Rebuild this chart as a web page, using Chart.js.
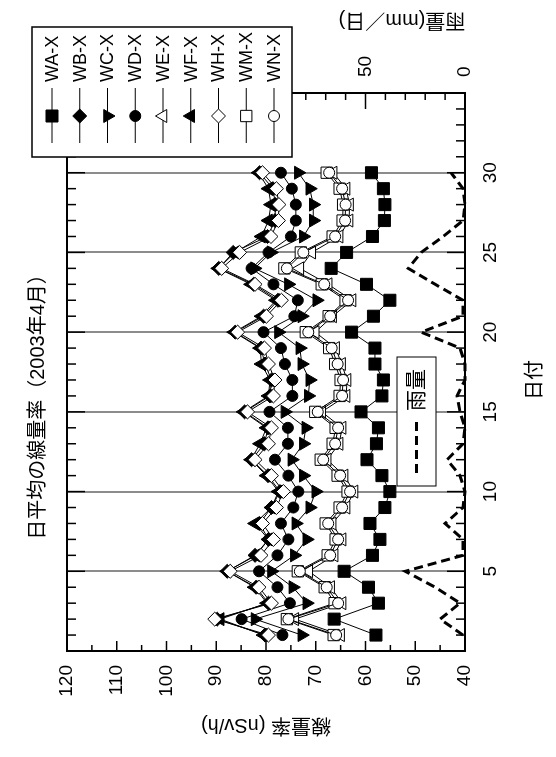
<!DOCTYPE html>
<html lang="ja">
<head>
<meta charset="utf-8">
<title>日平均の線量率（2003年4月）</title>
<script src="https://cdn.jsdelivr.net/npm/chart.js@4.4.1/dist/chart.umd.min.js"></script>
<style>
  html, body { margin: 0; padding: 0; background: #fff; }
  #frame { position: relative; width: 556px; height: 757px; overflow: hidden; }
  /* グラフ全体を左に90度回転して縦長に表示 */
  #rot { position: absolute; left: 0; top: 0; width: 757px; height: 556px;
         transform-origin: 0 0; transform: translate(0, 757px) rotate(-90deg); }
</style>
</head>
<body>
<div id="frame"><div id="rot"><canvas id="chart" width="757" height="556"></canvas></div></div>
<script>
// データ（4月の日付ごと）
const days = [1, 2, 3, 4, 5, 6, 7, 8, 9, 10, 11, 12, 13, 14, 15, 16, 17, 18, 19, 20, 21, 22, 23, 24, 25, 26, 27, 28, 29, 30];
const WA = [57.9, 66.3, 57.4, 59.4, 64.3, 58.6, 57.1, 59.1, 56.1, 55.1, 56.7, 59.7, 57.8, 57.4, 60.9, 56.7, 56.4, 58.1, 58.1, 62.8, 58.4, 55.1, 59.8, 66.9, 63.8, 58.6, 56.2, 56.1, 56.4, 58.8];
const WB = [80.2, 89.8, 79.5, 82.0, 87.8, 82.2, 79.5, 81.3, 78.9, 77.2, 79.6, 82.9, 80.3, 79.6, 84.3, 79.2, 78.9, 80.2, 81.0, 86.2, 80.5, 77.6, 82.5, 89.5, 86.6, 79.7, 78.2, 78.1, 78.6, 81.3];
const WC = [72.8, 82.2, 71.8, 74.6, 78.9, 74.3, 71.8, 74.0, 71.2, 70.0, 72.5, 74.8, 72.5, 72.0, 76.2, 71.5, 71.2, 72.8, 73.2, 77.5, 72.8, 69.8, 75.5, 82.3, 79.0, 72.5, 70.5, 70.5, 71.2, 73.5];
const WD = [76.7, 84.9, 75.2, 77.7, 81.4, 77.7, 75.5, 77.0, 74.5, 73.5, 75.5, 78.2, 75.6, 75.6, 79.3, 74.7, 74.7, 76.2, 77.0, 80.5, 74.3, 73.6, 78.5, 82.9, 79.5, 75.0, 74.0, 74.0, 74.8, 77.0];
const WE = [65.0, 74.2, 64.7, 67.0, 71.4, 66.3, 64.7, 66.7, 63.9, 62.3, 64.3, 67.7, 65.3, 64.7, 68.8, 63.9, 63.7, 64.8, 66.0, 70.1, 66.6, 62.7, 67.5, 73.2, 70.8, 65.3, 63.3, 63.2, 63.9, 66.5];
const WF = [80.5, 89.2, 79.8, 82.3, 87.8, 82.0, 79.5, 82.2, 78.9, 77.5, 79.9, 83.0, 81.2, 79.9, 84.5, 79.5, 79.2, 80.9, 81.2, 86.4, 80.9, 78.0, 83.0, 89.6, 86.2, 80.9, 79.5, 79.0, 79.5, 81.5];
const WH = [79.5, 90.3, 78.9, 81.4, 87.2, 81.0, 78.5, 80.7, 77.9, 76.5, 78.9, 82.2, 79.5, 78.9, 83.7, 78.5, 78.2, 79.5, 80.3, 85.7, 79.9, 76.9, 82.2, 88.9, 85.3, 79.0, 77.5, 77.4, 77.9, 80.7];
const WM = [66.4, 75.8, 66.2, 68.2, 73.6, 67.6, 66.0, 68.0, 65.2, 63.6, 65.6, 69.0, 66.6, 66.0, 70.1, 65.2, 65.0, 66.1, 67.3, 72.0, 67.4, 64.0, 68.8, 76.3, 73.0, 66.6, 64.6, 64.5, 65.2, 67.8];
const WN = [65.9, 75.5, 65.5, 67.8, 73.2, 67.1, 65.5, 67.5, 64.7, 63.1, 65.1, 68.5, 66.1, 65.5, 69.6, 64.7, 64.5, 65.6, 66.8, 71.5, 67.1, 63.5, 68.3, 75.8, 72.5, 66.1, 64.1, 64.0, 64.7, 67.3];
const rain = [1, 12.5, 2.5, 15, 30, 1, 1, 10, 1, 0, 2.5, 9, 1, 0, 2.5, 4, 0, 0, 2.5, 22, 1, 1, 15, 28.5, 22, 11, 1, 0, 1, 7];

const seriesNames = ['WA-X', 'WB-X', 'WC-X', 'WD-X', 'WE-X', 'WF-X', 'WH-X', 'WM-X', 'WN-X'];
const seriesValues = [WA, WB, WC, WD, WE, WF, WH, WM, WN];

// マーカーの形（Excel風）
const markers = [
    { style: 'rect', radius: 8.5, rotation: 0, fill: '#000' },
    { style: 'rectRot', radius: 7, rotation: 0, fill: '#000' },
    { style: 'triangle', radius: 7.5, rotation: 180, fill: '#000' },
    { style: 'circle', radius: 5.5, rotation: 0, fill: '#000' },
    { style: 'triangle', radius: 7.5, rotation: 0, fill: '#fff' },
    { style: 'triangle', radius: 7.5, rotation: 0, fill: '#000' },
    { style: 'rectRot', radius: 7, rotation: 0, fill: '#fff' },
    { style: 'rect', radius: 8, rotation: 0, fill: '#fff' },
    { style: 'circle', radius: 5.5, rotation: 0, fill: '#fff' }
];

const FONT = '"Liberation Sans", "Noto Sans CJK JP", sans-serif';

const datasets = [{
    label: '雨量',
    data: days.map((d, i) => ({ x: d, y: rain[i] })),
    yAxisID: 'y2',
    borderColor: '#000',
    borderWidth: 3,
    borderDash: [9, 5],
    pointRadius: 0,
    tension: 0,
    clip: false,
    order: 1
}];

seriesNames.forEach((name, i) => {
    const m = markers[i];
    datasets.push({
        label: name,
        data: days.map((d, j) => ({ x: d, y: seriesValues[i][j] })),
        yAxisID: 'y',
        borderColor: '#000',
        borderWidth: 1,
        pointStyle: m.style,
        pointRadius: m.radius,
        pointRotation: m.rotation,
        pointBackgroundColor: m.fill,
        pointBorderColor: '#000',
        pointBorderWidth: 1,
        tension: 0,
        order: -i
    });
});

// 凡例用のマーカー描画
function drawMarker(ctx, m, x, y) {
    const r = m.radius;
    ctx.beginPath();
    if (m.style === 'circle') {
        ctx.arc(x, y, r, 0, Math.PI * 2);
    } else if (m.style === 'rect') {
        const h = r * Math.SQRT1_2;
        ctx.rect(x - h, y - h, 2 * h, 2 * h);
    } else if (m.style === 'rectRot') {
        ctx.moveTo(x, y - r); ctx.lineTo(x + r, y); ctx.lineTo(x, y + r); ctx.lineTo(x - r, y);
        ctx.closePath();
    } else {
        let a = m.rotation * Math.PI / 180;
        ctx.moveTo(x + Math.sin(a) * r, y - Math.cos(a) * r);
        a += Math.PI * 2 / 3;
        ctx.lineTo(x + Math.sin(a) * r, y - Math.cos(a) * r);
        a += Math.PI * 2 / 3;
        ctx.lineTo(x + Math.sin(a) * r, y - Math.cos(a) * r);
        ctx.closePath();
    }
    ctx.fillStyle = m.fill;
    ctx.fill();
    ctx.lineWidth = 1;
    ctx.strokeStyle = '#000';
    ctx.stroke();
}

function line(ctx, x1, y1, x2, y2) {
    ctx.beginPath();
    ctx.moveTo(x1, y1);
    ctx.lineTo(x2, y2);
    ctx.stroke();
}

const decor = {
    id: 'decor',
    beforeDatasetsDraw(chart) {
        const { ctx, chartArea: a, scales } = chart;
        ctx.save();
        ctx.strokeStyle = '#000';
        ctx.lineWidth = 2;
        ctx.strokeRect(a.left, a.top, a.right - a.left, a.bottom - a.top);
        ctx.lineWidth = 1.5;
        // 日付軸の目盛（内向き、上下）
        for (let d = 1; d < 35; d++) {
            const x = scales.x.getPixelForValue(d);
            const len = d % 5 === 0 ? 18 : 9;
            line(ctx, x, a.bottom, x, a.bottom - len);
            line(ctx, x, a.top, x, a.top + len);
        }
        // 線量率の目盛
        for (let v = 45; v < 120; v += 5) {
            const y = scales.y.getPixelForValue(v);
            line(ctx, a.left, y, a.left + (v % 10 === 0 ? 10 : 6), y);
        }
        // 雨量の目盛
        for (let r = 10; r < 200; r += 10) {
            const y = scales.y2.getPixelForValue(r);
            line(ctx, a.right, y, a.right - (r % 50 === 0 ? 16 : 7), y);
        }
        ctx.restore();
    },
    afterDraw(chart) {
        const ctx = chart.ctx;
        ctx.save();
        ctx.fillStyle = '#000';
        ctx.textBaseline = 'middle';

        // タイトル
        ctx.font = '20px ' + FONT;
        ctx.textAlign = 'center';
        ctx.fillText('日平均の線量率（2003年4月）', 355, 38);

        // 軸タイトル
        ctx.fillText('日付', 377, 535);
        ctx.save();
        ctx.translate(32, 266);
        ctx.rotate(-Math.PI / 2);
        ctx.fillText('線量率 (nSv/h)', 0, 0);
        ctx.restore();
        ctx.save();
        ctx.translate(737, 402);
        ctx.rotate(-Math.PI / 2);
        ctx.fillText('雨量(mm／日)', 0, 0);
        ctx.restore();

        // 凡例（系列）
        ctx.fillStyle = '#fff';
        ctx.fillRect(600, 32, 130, 260);
        ctx.strokeStyle = '#000';
        ctx.lineWidth = 1.5;
        ctx.strokeRect(600, 32, 130, 260);
        ctx.font = '18px ' + FONT;
        ctx.textAlign = 'left';
        seriesNames.forEach((name, i) => {
            const y = 52 + i * 27.75;
            ctx.lineWidth = 1;
            line(ctx, 614, y, 669, y);
            drawMarker(ctx, markers[i], 641, y);
            ctx.fillStyle = '#000';
            ctx.fillText(name, 675, y + 1);
        });

        // 凡例（雨量）
        ctx.fillStyle = '#fff';
        ctx.fillRect(271, 397, 129, 39);
        ctx.lineWidth = 1;
        ctx.strokeRect(271, 397, 129, 39);
        ctx.setLineDash([9, 5]);
        ctx.lineWidth = 3;
        line(ctx, 284, 416.5, 340, 416.5);
        ctx.setLineDash([]);
        ctx.fillStyle = '#000';
        ctx.font = '21px ' + FONT;
        ctx.fillText('雨量', 346, 417);
        ctx.restore();
    }
};

const tickFont = { family: FONT, size: 19 };

new Chart(document.getElementById('chart'), {
    type: 'line',
    data: { datasets: datasets },
    options: {
        responsive: false,
        animation: false,
        layout: { padding: { top: 67, left: 0, right: 0, bottom: 0 } },
        plugins: {
            legend: { display: false },
            tooltip: { enabled: false },
            title: { display: false }
        },
        scales: {
            x: {
                type: 'linear',
                position: 'bottom',
                min: 0,
                max: 35,
                ticks: {
                    stepSize: 5,
                    padding: 14,
                    color: '#000',
                    font: tickFont,
                    maxRotation: 0,
                    callback: v => (v > 0 && v < 35) ? v : ''
                },
                grid: {
                    color: c => (c.tick && c.tick.value > 0 && c.tick.value < 35) ? '#8c8c8c' : 'rgba(0,0,0,0)',
                    lineWidth: 2,
                    drawTicks: false
                },
                border: { display: false },
                afterFit: s => { s.height = 91; }
            },
            y: {
                position: 'left',
                min: 40,
                max: 120,
                ticks: { stepSize: 10, padding: 14, color: '#000', font: tickFont },
                grid: { display: false, drawTicks: false },
                border: { display: false },
                afterFit: s => { s.width = 106; }
            },
            y2: {
                position: 'right',
                min: 0,
                max: 200,
                ticks: { stepSize: 50, padding: 16, color: '#000', font: tickFont },
                grid: { display: false, drawTicks: false },
                border: { display: false },
                afterFit: s => { s.width = 93; }
            }
        }
    },
    plugins: [decor]
});
</script>
</body>
</html>
